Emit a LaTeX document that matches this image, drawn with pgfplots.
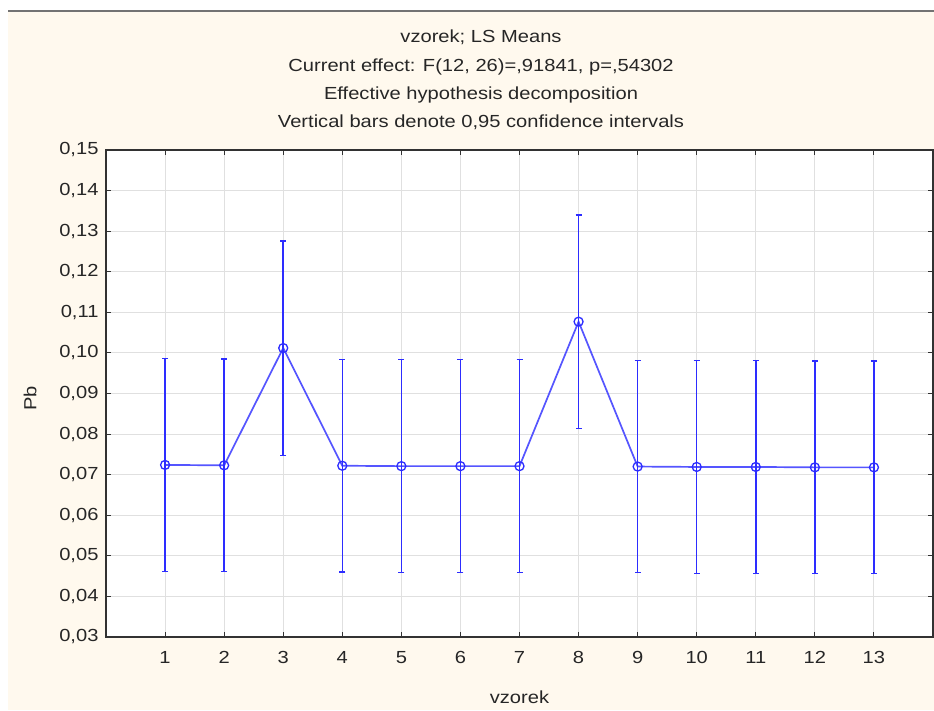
\documentclass[border=0pt]{standalone}
\usepackage{fontspec}
\setmainfont{Liberation Sans}[FakeStretch=1.15]
\usepackage{pgfplots}
\pgfplotsset{compat=1.18}
\definecolor{cream}{RGB}{255,249,238}
\definecolor{lineblue}{RGB}{85,85,255}
\definecolor{barblue}{RGB}{45,45,255}
\definecolor{axisgray}{RGB}{50,50,50}

\pgfplotstableread{
x y e
1 0.0724 0.0262
2 0.0723 0.0262
3 0.1012 0.0264
4 0.0722 0.0262
5 0.0721 0.0262
6 0.0721 0.0262
7 0.0721 0.0262
8 0.1077 0.0263
9 0.0720 0.0262
10 0.0719 0.0262
11 0.0719 0.0262
12 0.0718 0.0262
13 0.0718 0.0262
}\means

\begin{document}
\begin{tikzpicture}[x=1pt,y=1pt]
\useasboundingbox (0,0) rectangle (934,710);
\fill[cream] (8,0) rectangle (934,698);
\draw[black!55, line width=2pt] (8,699) -- (934,699);
\begin{scope}[every node/.style={font=\fontsize{17.5}{21}\selectfont, text=black!85, anchor=base}]
\node at (481,667) {vzorek; LS Means};
\node at (481,638) {Current effect: F(12, 26)=,91841, p=,54302};
\node at (481,610) {Effective hypothesis decomposition};
\node at (481,582) {Vertical bars denote 0,95 confidence intervals};
\end{scope}
\begin{axis}[
    at={(106pt,73pt)}, anchor=south west,
    width=827pt, height=487pt, scale only axis,
    xmin=0, xmax=14, ymin=0.03, ymax=0.15,
    xtick={1,...,13},
    ytick={0.03,0.04,0.05,0.06,0.07,0.08,0.09,0.10,0.11,0.12,0.13,0.14,0.15},
    yticklabels={{0,03},{0,04},{0,05},{0,06},{0,07},{0,08},{0,09},{0,10},{0,11},{0,12},{0,13},{0,14},{0,15}},
    /pgf/number format/assume math mode=true,
    ticklabel style={font=\fontsize{17.5}{21}\selectfont, text=black!85},
    yticklabel style={xshift=-4pt},
    xticklabel style={yshift=-11pt},
    label style={font=\fontsize{17.5}{21}\selectfont, text=black!85},
    xlabel={vzorek}, ylabel={Pb},
    xlabel style={at={(axis description cs:0.5,0)}, anchor=base, yshift=-66pt},
    ylabel style={at={(axis description cs:0,0.49)}, anchor=center, yshift=76pt},
    grid=major,
    grid style={black!12, line width=1pt},
    axis line style={axisgray, line width=1.3pt},
    tick style={axisgray, line width=1pt},
    major tick length=5pt,
    axis background/.style={fill=white},
    clip=false,
]
\addplot[color=lineblue, line width=1.7pt, mark=o, mark size=4.5pt,
    mark options={draw=barblue, line width=1.3pt},
    error bars/.cd, y dir=both, y explicit,
    error bar style={draw=barblue, line width=1.5pt},
    error mark options={rotate=90, mark size=3pt, draw=barblue, line width=1.2pt}]
    table[x=x, y=y, y error=e] {\means};
\end{axis}
\end{tikzpicture}
\end{document}
